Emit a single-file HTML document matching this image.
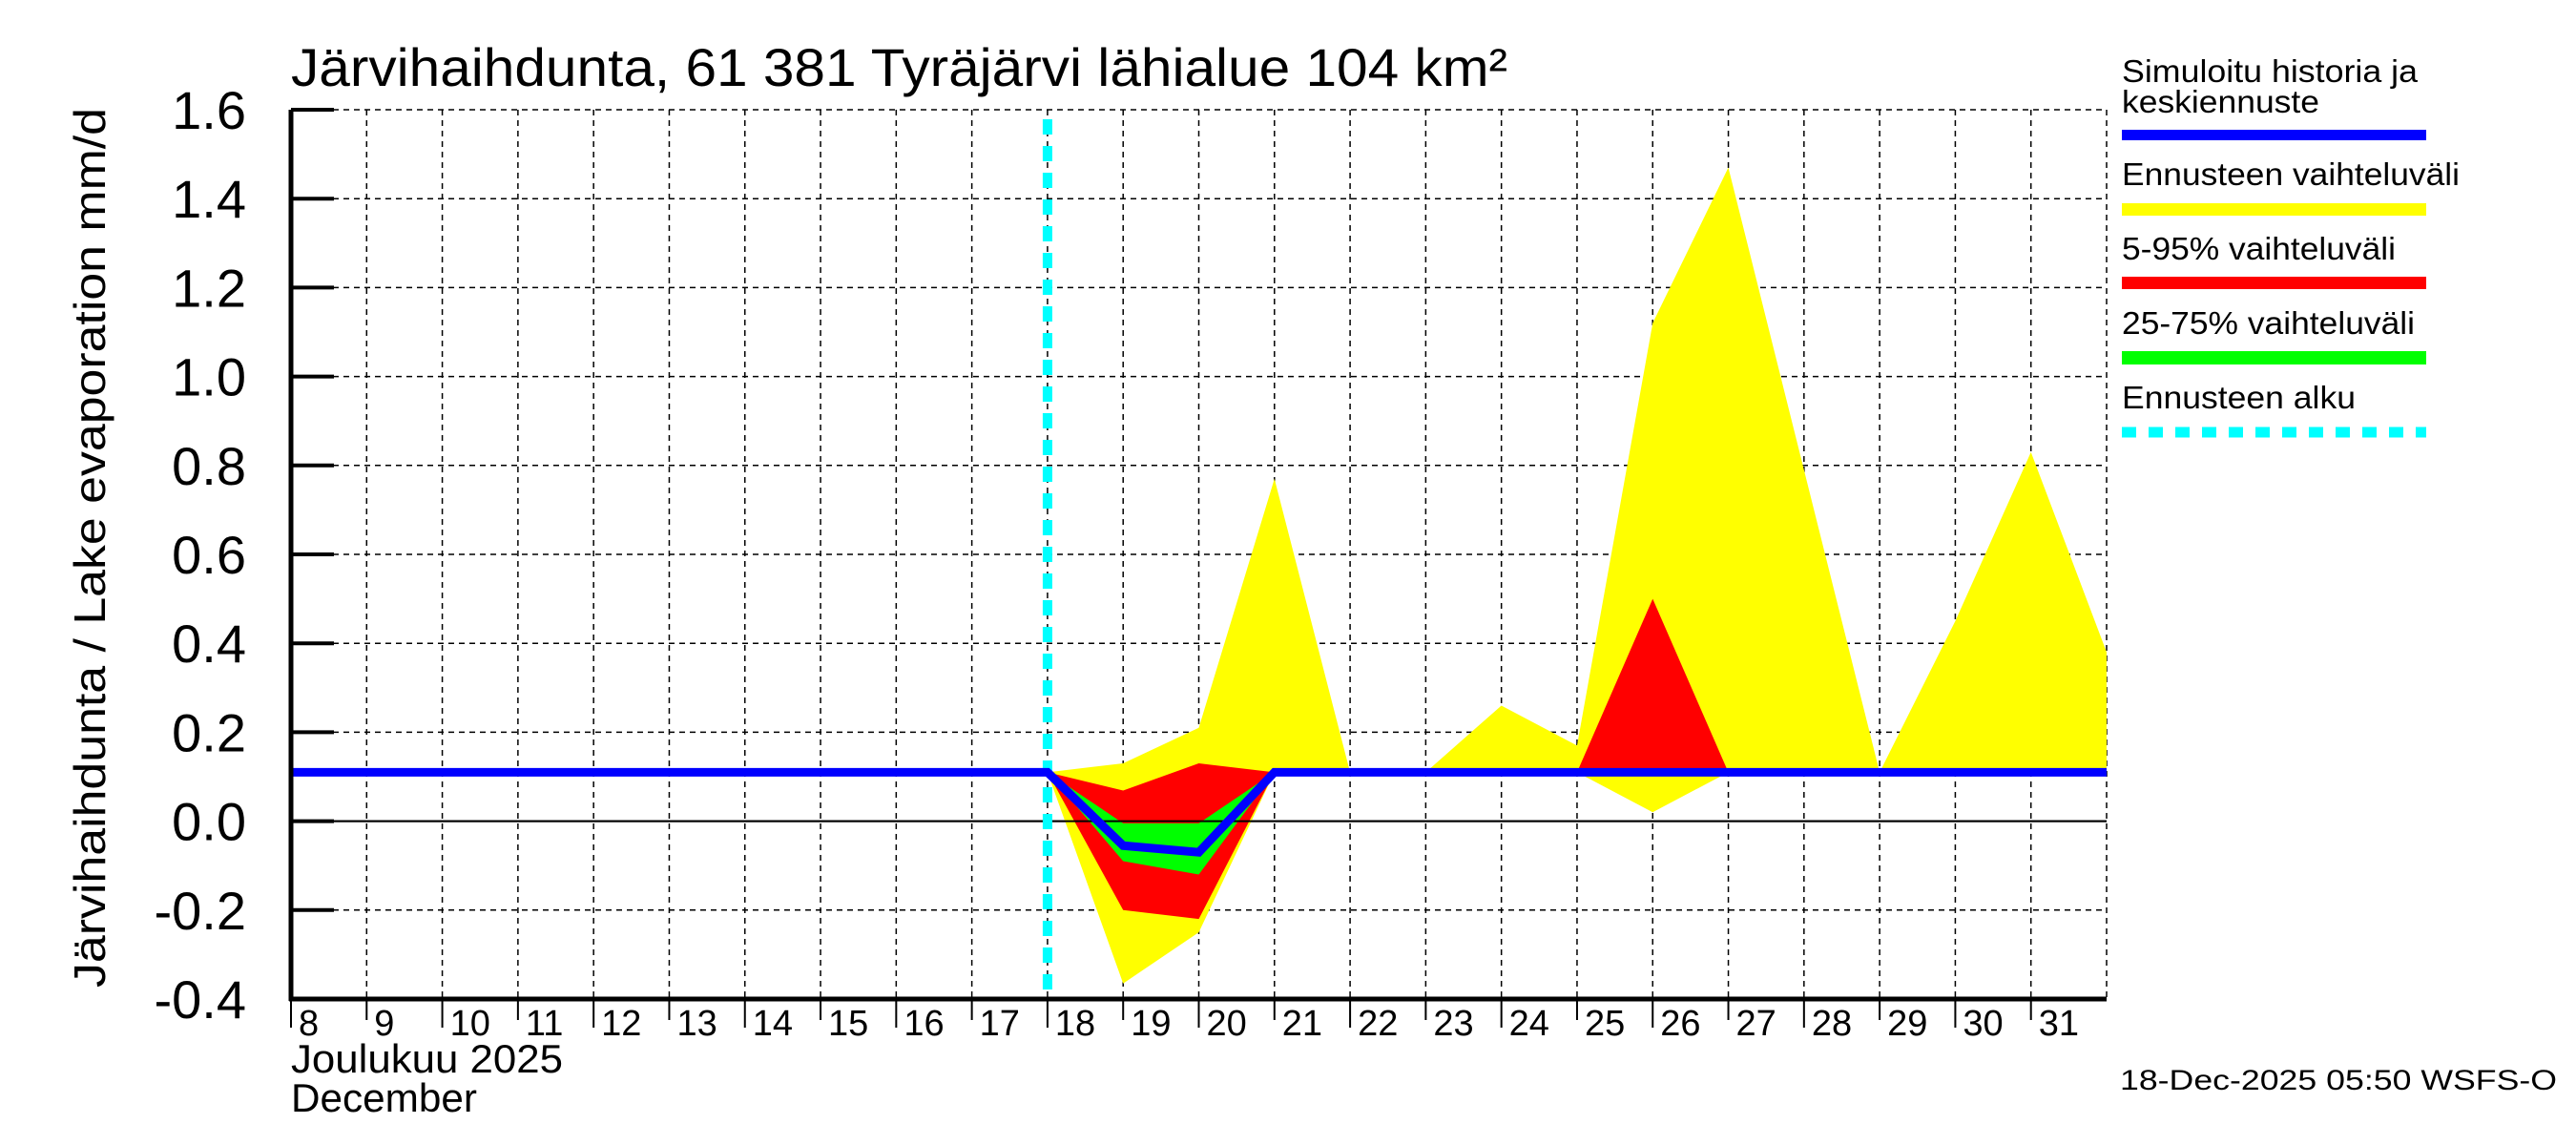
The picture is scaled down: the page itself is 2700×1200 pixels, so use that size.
<!DOCTYPE html>
<html><head><meta charset="utf-8"><style>
html,body{margin:0;padding:0;background:#fff;}
svg{display:block;font-family:"Liberation Sans",sans-serif;}
</style></head><body>
<svg id="chart" width="2700" height="1200" viewBox="0 0 2700 1200" xmlns="http://www.w3.org/2000/svg">
<rect width="2700" height="1200" fill="#fff"/>
<text x="305" y="90" font-size="56" textLength="1275" lengthAdjust="spacingAndGlyphs">Järvihaihdunta, 61 381 Tyräjärvi lähialue 104 km²</text>
<text transform="translate(110,1035) rotate(-90)" font-size="46" textLength="922" lengthAdjust="spacingAndGlyphs">Järvihaihdunta / Lake evaporation   mm/d</text>
<g id="grid"></g>
<g id="bands"></g>
<g id="axes"></g>
<text x="305" y="1124" font-size="42" textLength="285" lengthAdjust="spacingAndGlyphs">Joulukuu  2025</text>
<text x="305" y="1165" font-size="42" textLength="195" lengthAdjust="spacingAndGlyphs">December</text>
<text x="2222" y="1142" font-size="30" textLength="458" lengthAdjust="spacingAndGlyphs">18-Dec-2025 05:50 WSFS-O</text>
<g font-size="33">
 <text x="2224" y="86" textLength="310" lengthAdjust="spacingAndGlyphs">Simuloitu historia ja</text>
 <text x="2224" y="118" textLength="207" lengthAdjust="spacingAndGlyphs">keskiennuste</text>
 <rect x="2224" y="136" width="319" height="11" fill="#0000ff"/>
 <text x="2224" y="194" textLength="354" lengthAdjust="spacingAndGlyphs">Ennusteen vaihteluväli</text>
 <rect x="2224" y="213" width="319" height="13" fill="#ffff00"/>
 <text x="2224" y="272" textLength="287" lengthAdjust="spacingAndGlyphs">5-95% vaihteluväli</text>
 <rect x="2224" y="290" width="319" height="13" fill="#ff0000"/>
 <text x="2224" y="350" textLength="307" lengthAdjust="spacingAndGlyphs">25-75% vaihteluväli</text>
 <rect x="2224" y="368" width="319" height="14" fill="#00ff00"/>
 <text x="2224" y="428" textLength="245" lengthAdjust="spacingAndGlyphs">Ennusteen alku</text>
 <line x1="2224" y1="453" x2="2543" y2="453" stroke="#00ffff" stroke-width="11" stroke-dasharray="15,13"/>
</g>
</svg>
<script>
const dayLabels=[8,9,10,11,12,13,14,15,16,17,18,19,20,21,22,23,24,25,26,27,28,29,30,31];
const yTicks=[-0.4,-0.2,0.0,0.2,0.4,0.6,0.8,1.0,1.2,1.4,1.6];
const yTickLabels=["-0.4","-0.2","0.0","0.2","0.4","0.6","0.8","1.0","1.2","1.4","1.6"];
const histDays=[8,18];
const histValues=[0.11,0.11];
const fcDays=[18,19,20,21,22,23,24,25,26,27,28,29,30,31,32];
const yellowHigh=[0.11,0.13,0.21,0.77,0.11,0.11,0.26,0.17,1.12,1.47,0.79,0.11,0.45,0.83,0.38];
const yellowLow=[0.11,-0.365,-0.25,0.11,0.11,0.11,0.11,0.11,0.02,0.11,0.11,0.11,0.11,0.11,0.11];
const redHigh=[0.11,0.069,0.13,0.11,0.11,0.11,0.11,0.11,0.50,0.11,0.11,0.11,0.11,0.11,0.11];
const redLow=[0.11,-0.20,-0.22,0.11,0.11,0.11,0.11,0.11,0.11,0.11,0.11,0.11,0.11,0.11,0.11];
const greenHigh=[0.11,-0.005,-0.005,0.11,0.11,0.11,0.11,0.11,0.11,0.11,0.11,0.11,0.11,0.11,0.11];
const greenLow=[0.11,-0.09,-0.12,0.11,0.11,0.11,0.11,0.11,0.11,0.11,0.11,0.11,0.11,0.11,0.11];
const medianValues=[0.11,-0.055,-0.07,0.11,0.11,0.11,0.11,0.11,0.11,0.11,0.11,0.11,0.11,0.11,0.11];
const forecastStartDay=18;

const X0=305,X1=2208,Y0=1047,Y1=115,D0=8,D1=32,V0=-0.4,V1=1.6;
const xs=d=>X0+(d-D0)/(D1-D0)*(X1-X0);
const ys=v=>Y0-(v-V0)/(V1-V0)*(Y0-Y1);
const NS="http://www.w3.org/2000/svg";
function mk(tag,attrs,parent){const e=document.createElementNS(NS,tag);for(const k in attrs)e.setAttribute(k,attrs[k]);parent.appendChild(e);return e;}
const grid=document.getElementById('grid'),bands=document.getElementById('bands'),axes=document.getElementById('axes');

yTicks.forEach((v,i)=>{
  const l=mk('line',{x1:X0,x2:X1,y1:ys(v),y2:ys(v),stroke:'#000','stroke-width':(v===0?2:1.5),'stroke-dasharray':(v===0?'none':'6,5')},grid);
  
  
  const t=mk('line',{x1:X0,x2:X0+45,y1:ys(v),y2:ys(v),stroke:'#000','stroke-width':4},axes);
  
  
  const tx=mk('text',{x:258,y:ys(v)+20,'font-size':56,'text-anchor':'end'},axes);
  tx.textContent=yTickLabels[i];
  
  
});
for(let d=D0+1;d<=D1;d++){
  const l=mk('line',{x1:xs(d),x2:xs(d),y1:Y1,y2:Y0,stroke:'#000','stroke-width':1.5,'stroke-dasharray':'6,5'},grid);
  
  
}
dayLabels.forEach((d,i)=>{
  const t=mk('line',{x1:xs(d),x2:xs(d),y1:Y0,y2:Y0+(i%2===0?30:22),stroke:'#000','stroke-width':2},axes);
  
  
  const tx=mk('text',{x:xs(d)+8,y:1085,'font-size':38,'text-anchor':'start'},axes);
  tx.textContent=String(d);
  
  
});
function band(hi,lo,color,name){
  let pts=fcDays.map((d,i)=>xs(d)+','+ys(hi[i]));
  for(let i=fcDays.length-1;i>=0;i--)pts.push(xs(fcDays[i])+','+ys(lo[i]));
  const p=mk('polygon',{points:pts.join(' '),fill:color},bands);
  
  
}
band(yellowHigh,yellowLow,'#ffff00','band-full-range');
band(redHigh,redLow,'#ff0000','band-5-95');
band(greenHigh,greenLow,'#00ff00','band-25-75');
const z=mk('line',{x1:X0,x2:X1,y1:ys(0),y2:ys(0),stroke:'#000','stroke-width':2},bands);


const fl=mk('line',{x1:xs(forecastStartDay),x2:xs(forecastStartDay),y1:Y1+10,y2:Y0,stroke:'#00ffff','stroke-width':10,'stroke-dasharray':'16,12'},bands);


const hp=histDays.map((d,i)=>xs(d)+','+ys(histValues[i])).concat(fcDays.map((d,i)=>xs(d)+','+ys(medianValues[i])));
const ml=mk('polyline',{points:hp.join(' '),fill:'none',stroke:'#0000ff','stroke-width':9,'stroke-linejoin':'miter'},bands);


const la=mk('line',{x1:X0,x2:X0,y1:Y1,y2:Y0+2,stroke:'#000','stroke-width':5},axes);


const ba=mk('line',{x1:X0-2,x2:X1,y1:Y0,y2:Y0,stroke:'#000','stroke-width':5},axes);


</script>
</body></html>
